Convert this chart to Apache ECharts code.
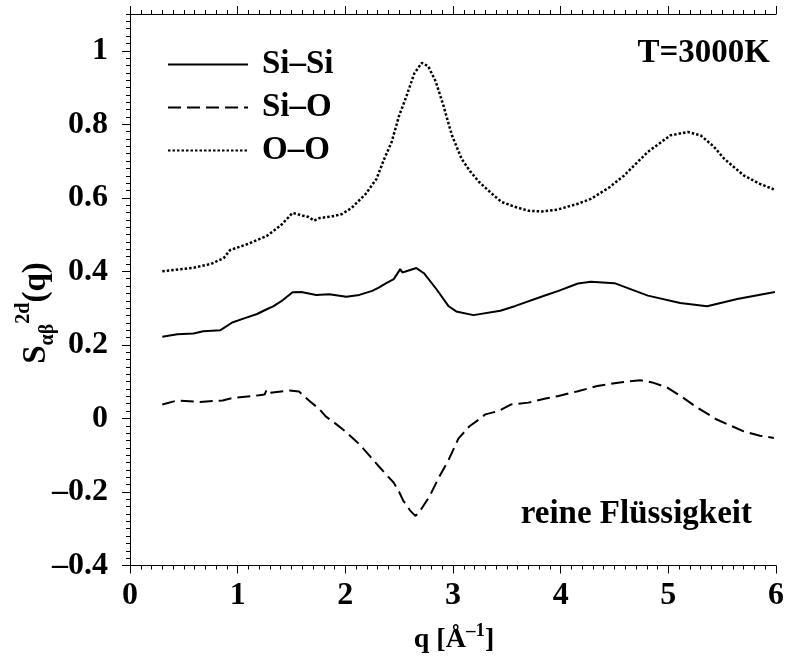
<!DOCTYPE html>
<html>
<head>
<meta charset="utf-8">
<script src="https://cdn.jsdelivr.net/npm/echarts@6/dist/echarts.min.js"></script>
<style>html,body{margin:0;padding:0;background:#fff}#c{width:787px;height:660px}</style>
</head>
<body>
<div id="c"></div>
<script>
// ---- data ----
const seriesNames = ['Si–Si', 'Si–O', 'O–O'];
const qSiSi = [0.3,0.44,0.59,0.68,0.84,0.95,1.06,1.18,1.27,1.33,1.42,1.51,1.59,1.73,1.85,2.01,2.13,2.25,2.31,2.38,2.45,2.51,2.53,2.66,2.73,2.85,2.96,3.03,3.19,3.44,3.58,3.86,3.98,4.16,4.28,4.50,4.81,5.11,5.36,5.64,5.99];
const vSiSi = [0.222,0.229,0.231,0.237,0.240,0.261,0.272,0.284,0.297,0.305,0.322,0.343,0.344,0.336,0.338,0.331,0.336,0.347,0.356,0.368,0.379,0.406,0.397,0.409,0.395,0.350,0.305,0.291,0.281,0.293,0.306,0.335,0.347,0.367,0.372,0.368,0.334,0.314,0.305,0.325,0.344];
const qSiO = [0.3,0.44,0.65,0.86,0.96,1.20,1.25,1.27,1.30,1.48,1.57,1.67,1.76,1.82,1.90,2.00,2.13,2.31,2.45,2.50,2.54,2.57,2.60,2.65,2.68,2.78,2.87,2.96,3.05,3.15,3.24,3.30,3.42,3.54,3.70,3.86,3.98,4.16,4.34,4.55,4.74,4.85,4.99,5.12,5.27,5.45,5.70,5.85,5.98];
const vSiO = [0.038,0.049,0.045,0.049,0.056,0.063,0.065,0.079,0.070,0.076,0.073,0.047,0.025,0.005,-0.012,-0.035,-0.070,-0.130,-0.175,-0.200,-0.225,-0.235,-0.250,-0.265,-0.258,-0.213,-0.160,-0.112,-0.055,-0.022,-0.003,0.011,0.020,0.038,0.043,0.054,0.061,0.074,0.088,0.098,0.104,0.098,0.084,0.060,0.029,-0.003,-0.035,-0.047,-0.053];
const qOO = [0.3,0.45,0.59,0.75,0.87,0.93,1.10,1.27,1.40,1.51,1.60,1.66,1.71,1.76,1.87,1.97,2.06,2.19,2.29,2.36,2.43,2.50,2.56,2.64,2.71,2.77,2.84,2.91,2.99,3.08,3.16,3.24,3.35,3.45,3.58,3.70,3.82,3.97,4.16,4.28,4.45,4.59,4.81,5.02,5.18,5.30,5.42,5.52,5.70,5.85,5.98];
const vOO = [0.400,0.405,0.410,0.420,0.436,0.458,0.475,0.496,0.525,0.559,0.552,0.548,0.538,0.545,0.549,0.556,0.573,0.611,0.652,0.705,0.752,0.824,0.870,0.938,0.967,0.958,0.916,0.852,0.770,0.706,0.672,0.644,0.614,0.589,0.575,0.565,0.563,0.568,0.584,0.597,0.628,0.661,0.725,0.770,0.779,0.770,0.740,0.706,0.661,0.638,0.623];
const xTicks = {min: 0, max: 6, interval: 1};
const yTicks = {min: -0.4, max: 1.1, interval: 0.2, minor: 0.02};
const tempLabel = 'T=3000K';
const stateLabel = 'reine Flüssigkeit';

const FONT = "'Liberation Serif','Times New Roman',serif";
const pairs = (q, v) => q.map((x, i) => [x, v[i]]);
const fmt = v => { const r = Math.round(v * 10) / 10; return r < 0 ? '–' + Math.abs(r) : String(r); };

const chart = echarts.init(document.getElementById('c'), null, {renderer: 'canvas'});
const axisLine = {show: true, onZero: false, lineStyle: {color: '#000', width: 1}};
chart.setOption({
  animation: false,
  backgroundColor: '#fff',
  grid: {left: 130, right: 8, top: 14, bottom: 94.5, containLabel: false},
  legend: {
    data: seriesNames, orient: 'vertical', left: 162, top: 43,
    itemWidth: 80, itemHeight: 14, itemGap: 10,
    itemStyle: {color: 'transparent', borderColor: 'transparent', borderWidth: 0, opacity: 0},
    textStyle: {fontFamily: FONT, fontWeight: 'bold', fontSize: 33, color: '#000', lineHeight: 33, padding: [0, 0, 0, 9]}
  },
  xAxis: [
    {type: 'value', position: 'bottom', min: xTicks.min, max: xTicks.max, interval: xTicks.interval,
     axisLine, axisTick: {show: true, length: 8, lineStyle: {color: '#000'}},
     minorTick: {show: true, splitNumber: 10, length: 4, lineStyle: {color: '#000'}},
     splitLine: {show: false}, minorSplitLine: {show: false},
     axisLabel: {fontFamily: FONT, fontWeight: 'bold', fontSize: 32, color: '#000', margin: 14, formatter: fmt}},
    {type: 'value', position: 'top', min: xTicks.min, max: xTicks.max, interval: xTicks.interval,
     axisLine, axisTick: {show: true, length: 8, lineStyle: {color: '#000'}},
     minorTick: {show: true, splitNumber: 10, length: 4, lineStyle: {color: '#000'}},
     splitLine: {show: false}, axisLabel: {show: false}}
  ],
  yAxis: [
    {type: 'value', position: 'left', min: yTicks.min, max: yTicks.max, interval: yTicks.interval,
     axisLine, axisTick: {show: true, length: 8, lineStyle: {color: '#000'}},
     splitLine: {show: false},
     axisLabel: {fontFamily: FONT, fontWeight: 'bold', fontSize: 32, color: '#000', margin: 22, formatter: fmt, showMaxLabel: false}},
    {type: 'value', position: 'left', min: yTicks.min, max: yTicks.max, interval: yTicks.minor,
     axisLine: {show: false, onZero: false}, axisTick: {show: true, length: 4, lineStyle: {color: '#000'}},
     splitLine: {show: false}, axisLabel: {show: false}}
  ],
  graphic: [
    {type: 'text', x: 770, y: 53, style: {text: tempLabel, font: 'bold 33px ' + FONT, fill: '#000', align: 'right', verticalAlign: 'middle'}},
    {type: 'text', x: 752, y: 514, style: {text: stateLabel, font: 'bold 33px ' + FONT, fill: '#000', align: 'right', verticalAlign: 'middle'}},
    {type: 'text', x: 36, y: 313, rotation: Math.PI / 2,
     style: {text: '{s|S}{sub|αβ}{sup|2d}{s|(q)}', align: 'center', verticalAlign: 'middle', fill: '#000',
       rich: {
         s: {fontFamily: FONT, fontWeight: 'bold', fontSize: 33, lineHeight: 44, fill: '#000'},
         sub: {fontFamily: FONT, fontWeight: 'bold', fontSize: 20, lineHeight: 20, verticalAlign: 'bottom', fill: '#000'},
         sup: {fontFamily: FONT, fontWeight: 'bold', fontSize: 20, lineHeight: 20, verticalAlign: 'top', fill: '#000'}
       }}},
    {type: 'text', x: 454, y: 640,
     style: {text: '{a|q [Å}{sup|–1}{a|]}', align: 'center', verticalAlign: 'middle', fill: '#000',
       rich: {
         a: {fontFamily: FONT, fontWeight: 'bold', fontSize: 28, lineHeight: 36, fill: '#000'},
         sup: {fontFamily: FONT, fontWeight: 'bold', fontSize: 19, lineHeight: 19, verticalAlign: 'top', fill: '#000'}
       }}}
  ],
  series: [
    {name: seriesNames[0], type: 'line', data: pairs(qSiSi, vSiSi), showSymbol: false, symbol: 'none',
     itemStyle: {color: '#000'}, lineStyle: {color: '#000', width: 2, type: 'solid'}},
    {name: seriesNames[1], type: 'line', data: pairs(qSiO, vSiO), showSymbol: false, symbol: 'none',
     itemStyle: {color: '#000'}, lineStyle: {color: '#000', width: 2, type: [13, 6]}},
    {name: seriesNames[2], type: 'line', data: pairs(qOO, vOO), showSymbol: false, symbol: 'none',
     itemStyle: {color: '#000'}, lineStyle: {color: '#000', width: 2.5, type: [2.5, 2]}}
  ]
});
</script>
</body>
</html>
